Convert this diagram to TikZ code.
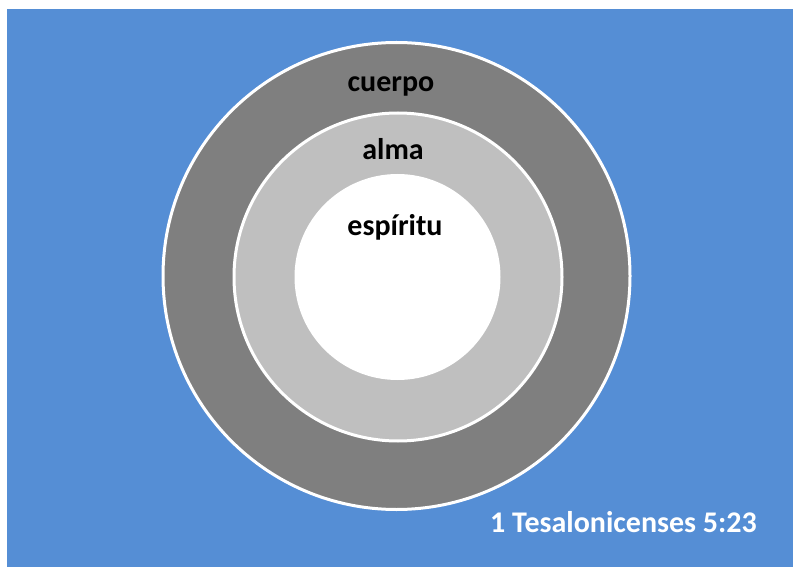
\documentclass[tikz,border=0pt]{standalone}
\usepackage{fontspec}
\setmainfont{Carlito}
\definecolor{bgblue}{HTML}{558ED5}
\definecolor{darkring}{HTML}{7F7F7F}
\definecolor{lightring}{HTML}{BFBFBF}
\tikzset{
  ring/.style={circle, draw=white, line width=3pt, inner sep=0pt},
  lbl/.style={font=\bfseries\fontsize{30}{36}\selectfont, text=black, inner sep=0pt, anchor=base},
}
\begin{document}
\begin{tikzpicture}[x=1pt,y=-1pt]
\useasboundingbox (0,0) rectangle (793,567);
\fill[white] (0,0) rectangle (793,567);
\fill[bgblue] (7,9) rectangle (793,567);
\node[ring, fill=darkring, minimum size=467pt] (outer) at (396.5,276) {};
\node[ring, fill=lightring, minimum size=328pt] (middle) at (398,277) {};
\node[circle, fill=white, inner sep=0pt, minimum size=206pt] (inner) at (397.5,277) {};
\node[lbl] (cuerpo) at (391,92) {cuerpo};
\node[lbl] (alma) at (393,160) {alma};
\node[lbl] (espiritu) at (395,235) {espíritu};
\node[lbl, text=white, anchor=base east] (ref) at (757,532) {1 Tesalonicenses 5:23};
\end{tikzpicture}
\end{document}
